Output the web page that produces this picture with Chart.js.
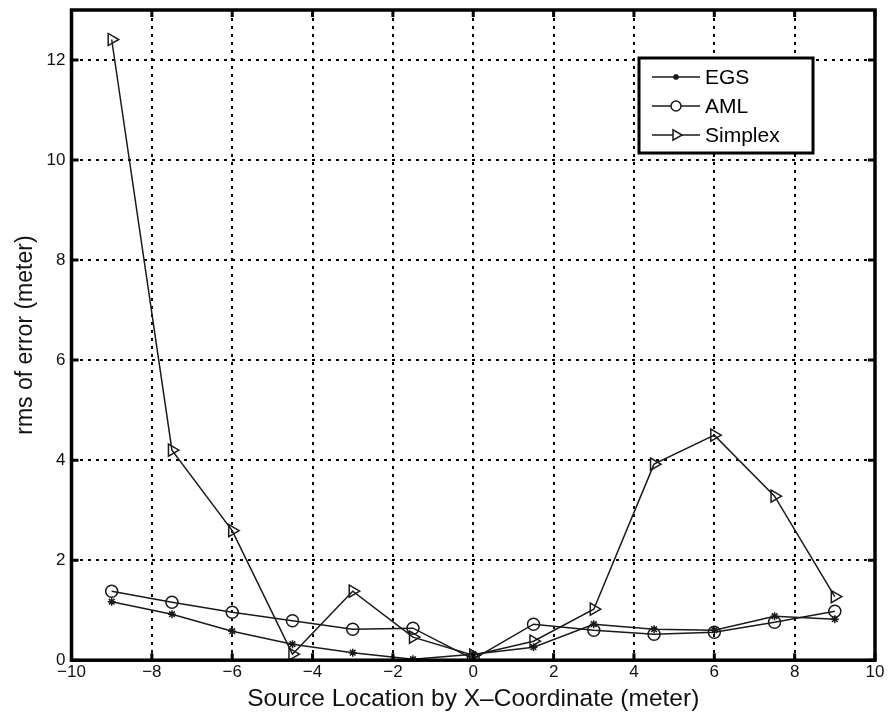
<!DOCTYPE html>
<html>
<head>
<meta charset="utf8">
<title>rms of error</title>
<script src="https://cdn.jsdelivr.net/npm/chart.js@4/dist/chart.umd.min.js"></script>
<style>
  body { margin: 0; background: #fff; }
  #wrap { width: 888px; height: 715px; }
</style>
</head>
<body>
<div id="wrap"><canvas id="myChart" width="888" height="715"></canvas></div>
<script>
// source x positions (meter)
var xLocations = [-9, -7.5, -6, -4.5, -3, -1.5, 0, 1.5, 3, 4.5, 6, 7.5, 9];
// rms of error
var egsValues     = [1.17, 0.92, 0.58, 0.32, 0.15, 0.02, 0.12, 0.26, 0.72, 0.62, 0.60, 0.88, 0.82];
var amlValues     = [1.38, 1.16, 0.96, 0.79, 0.62, 0.64, 0.02, 0.72, 0.60, 0.52, 0.56, 0.76, 0.98];
var simplexValues = [12.41, 4.20, 2.59, 0.12, 1.38, 0.46, 0.10, 0.38, 1.02, 3.92, 4.50, 3.28, 1.27];
var xTicks = [-10, -8, -6, -4, -2, 0, 2, 4, 6, 8, 10];
var yTicks = [0, 2, 4, 6, 8, 10, 12];

function toPoints(vals) {
    return xLocations.map(function (x, i) { return { x: x, y: vals[i] }; });
}
function minus(v) { return String(v).replace('-', '\u2212'); }

var lineColor = '#1a1a1a';
var fontFam = '"Liberation Sans", Arial, sans-serif';
var series = [
    { label: 'EGS', data: egsValues, pointStyle: 'star', radius: 4, rotation: 0 },
    { label: 'AML', data: amlValues, pointStyle: 'circle', radius: 6, rotation: 0 },
    { label: 'Simplex', data: simplexValues, pointStyle: 'triangle', radius: 7, rotation: 90 }
];

// box round the plot area, small inward ticks + matlab style legend
var framePlugin = {
    id: 'frame',
    afterDraw: function (chart) {
        var ctx = chart.ctx, a = chart.chartArea;
        var xs = chart.scales.x, ys = chart.scales.y;
        ctx.save();
        ctx.strokeStyle = '#000';
        ctx.lineWidth = 3.5;
        ctx.strokeRect(a.left, a.top, a.right - a.left, a.bottom - a.top);

        ctx.lineWidth = 3;
        ctx.beginPath();
        xTicks.forEach(function (v) {
            var px = xs.getPixelForValue(v);
            ctx.moveTo(px, a.bottom); ctx.lineTo(px, a.bottom - 7);
            ctx.moveTo(px, a.top); ctx.lineTo(px, a.top + 7);
        });
        yTicks.forEach(function (v) {
            var py = ys.getPixelForValue(v);
            ctx.moveTo(a.left, py); ctx.lineTo(a.left + 7, py);
            ctx.moveTo(a.right, py); ctx.lineTo(a.right - 7, py);
        });
        ctx.stroke();

        // legend
        var bx = 639, by = 58, bw = 174, bh = 95;
        ctx.fillStyle = '#fff';
        ctx.fillRect(bx, by, bw, bh);
        ctx.lineWidth = 3;
        ctx.strokeRect(bx, by, bw, bh);
        ctx.font = '21px ' + fontFam;
        ctx.textBaseline = 'middle';
        series.forEach(function (s, i) {
            var y = by + 19 + i * 29;
            ctx.strokeStyle = lineColor;
            ctx.lineWidth = 1.5;
            ctx.beginPath();
            ctx.moveTo(bx + 13, y);
            ctx.lineTo(bx + 61, y);
            ctx.stroke();
            ctx.fillStyle = s.pointStyle === 'star' ? lineColor : '#fff';
            Chart.helpers.drawPoint(ctx, {
                pointStyle: s.pointStyle, radius: s.radius - 1, rotation: s.rotation,
                borderWidth: 1.5
            }, bx + 37, y);
            ctx.fillStyle = '#000';
            ctx.fillText(s.label, bx + 66, y + 1);
        });
        ctx.restore();
    }
};

const ctx = document.getElementById('myChart').getContext('2d');
const myChart = new Chart(ctx, {
    type: 'line',
    data: {
        datasets: series.map(function (s) {
            return {
                label: s.label,
                data: toPoints(s.data),
                borderColor: lineColor,
                backgroundColor: 'rgba(255,255,255,0)',
                borderWidth: 1.5,
                pointStyle: s.pointStyle,
                pointRadius: s.radius,
                pointRotation: s.rotation,
                pointBorderColor: lineColor,
                pointBackgroundColor: s.pointStyle === 'star' ? lineColor : 'rgba(255,255,255,0)',
                pointBorderWidth: 1.5,
                tension: 0,
                fill: false
            };
        })
    },
    options: {
        responsive: false,
        animation: false,
        layout: { padding: { top: 10, right: 13, left: 12, bottom: 1 } },
        plugins: {
            legend: { display: false },
            tooltip: { enabled: false }
        },
        scales: {
            x: {
                type: 'linear',
                min: -10, max: 10,
                afterBuildTicks: function (axis) { axis.ticks = xTicks.map(function (v) { return { value: v }; }); },
                afterFit: function (axis) { axis.paddingLeft = 0; axis.paddingRight = 0; },
                ticks: {
                    color: '#111',
                    font: { family: fontFam, size: 17 },
                    padding: 2,
                    maxRotation: 0,
                    callback: function (v) { return minus(v); }
                },
                grid: { color: '#000', lineWidth: 2, drawTicks: false },
                border: { display: false, dash: [3, 5] },
                title: {
                    display: true,
                    text: 'Source Location by X\u2013Coordinate (meter)',
                    color: '#111',
                    font: { family: fontFam, size: 24.5 },
                    padding: { top: 0, bottom: 0 }
                }
            },
            y: {
                type: 'linear',
                min: 0, max: 13,
                afterBuildTicks: function (axis) { axis.ticks = yTicks.map(function (v) { return { value: v }; }); },
                afterFit: function (axis) { axis.paddingTop = 0; axis.paddingBottom = 0; },
                ticks: {
                    color: '#111',
                    font: { family: fontFam, size: 17 },
                    padding: 6,
                    callback: function (v) { return minus(v); }
                },
                grid: { color: '#000', lineWidth: 2, drawTicks: false },
                border: { display: false, dash: [3, 5] },
                title: {
                    display: true,
                    text: 'rms of error (meter)',
                    color: '#111',
                    font: { family: fontFam, size: 23 },
                    padding: { top: 0, bottom: 1 }
                }
            }
        }
    },
    plugins: [framePlugin]
});
</script>
</body>
</html>
